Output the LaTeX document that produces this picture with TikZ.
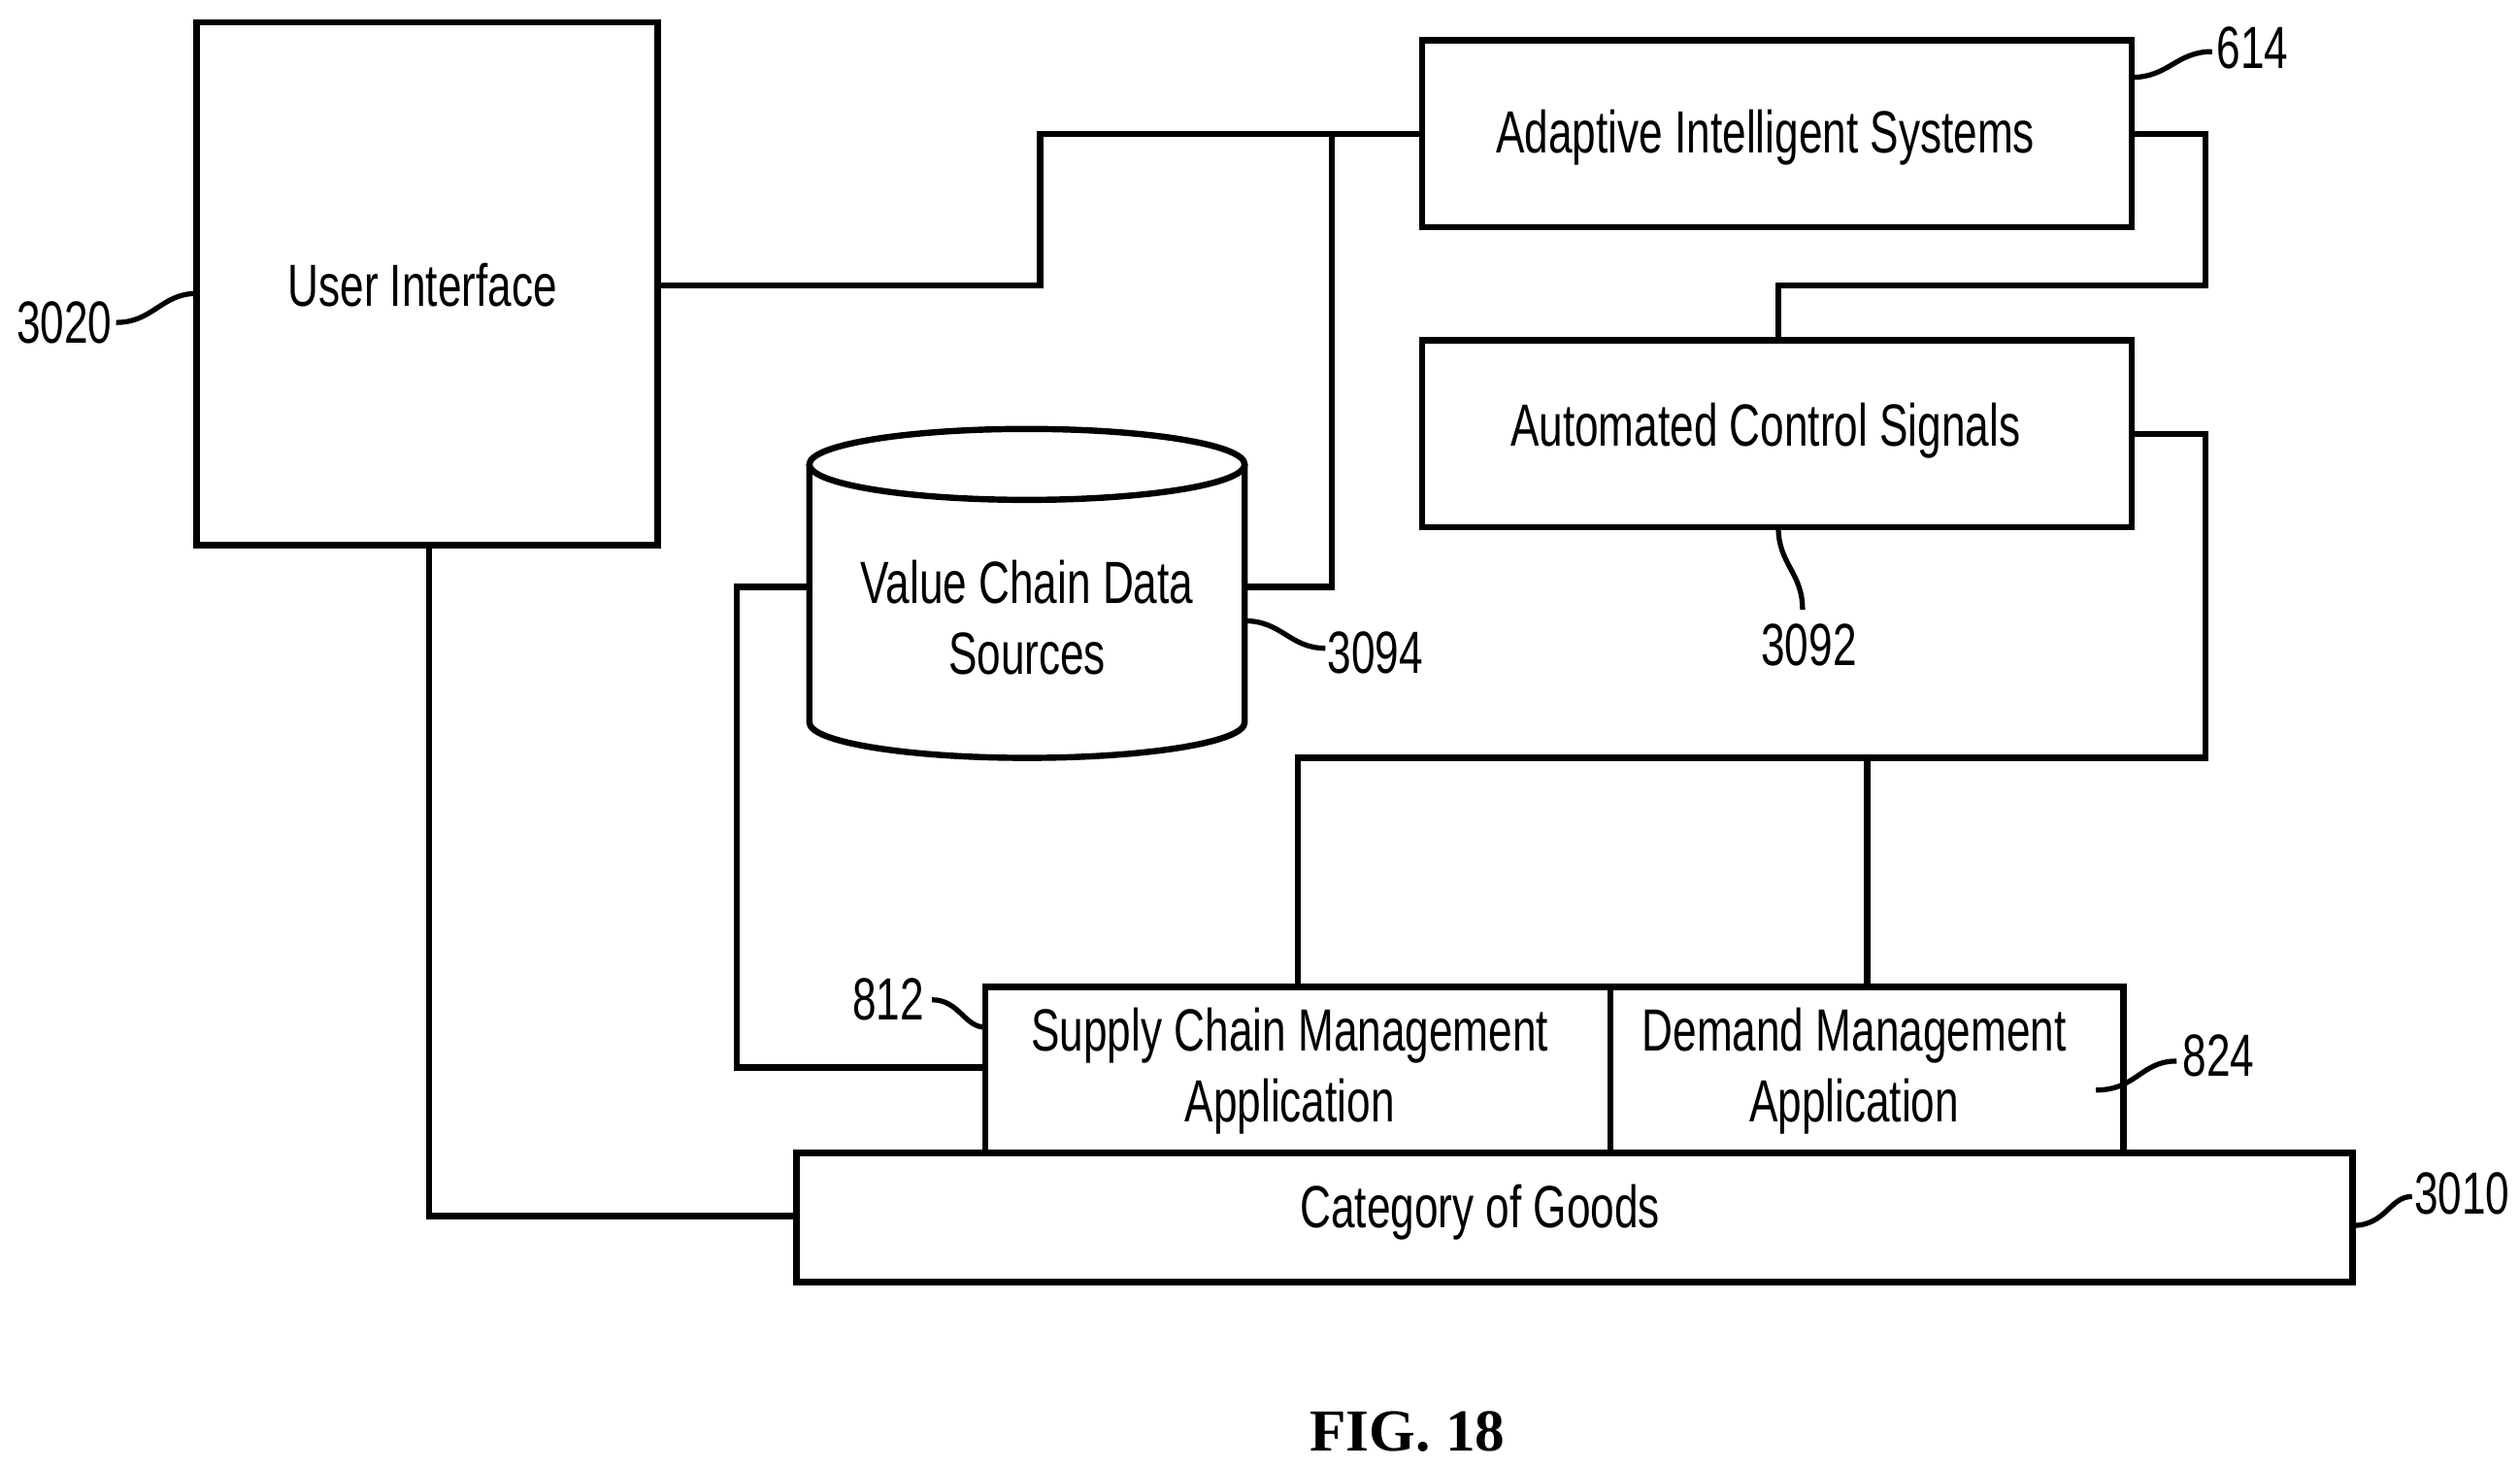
\documentclass[tikz,border=0pt]{standalone}
\usepackage{fontspec}
\setmainfont{Liberation Sans}[FakeStretch=0.72]
\newfontfamily\figfont{Liberation Serif}
\begin{document}
\begin{tikzpicture}[x=0.01cm,y=-0.01cm,line width=1.1pt,
  box/.style={draw,minimum width=0,inner sep=0},
  lab/.style={font=\fontsize{10.5}{12.5}\selectfont,align=center},
  lead/.style={line width=0.9pt}]
\useasboundingbox (0,0) rectangle (1563,910);
% boxes
\draw (122,14) rectangle (408,338); \node[lab] (ui) at (262,177) {User Interface};
\draw (882,25) rectangle (1322,141); \node[lab] (ais) at (1095,85) {Adaptive Intelligent Systems};
\draw (882,211) rectangle (1322,327); \node[lab] (acs) at (1095,267) {Automated Control Signals};
\draw (611,612) rectangle (999,715); \node[lab] (scm) at (800,664) {Supply Chain Management\\Application};
\draw (999,612) rectangle (1317,715); \node[lab] (dm) at (1150,664) {Demand Management\\Application};
\draw (494,715) rectangle (1459,795); \node[lab] (cog) at (918,752) {Category of Goods};
% cylinder
\draw (502,288) -- (502,448) arc[start angle=180,end angle=360,x radius=135,y radius=-22] -- (772,288);
\draw (637,288) ellipse[x radius=135,y radius=22];
\node[lab] (vcd) at (637,383) {Value Chain Data\\Sources};
% connectors
\draw (408,177) -| (645,83) -- (882,83);
\draw (772,364) -| (826,83);
\draw (1322,83) -| (1368,177) -| (1103,211);
\draw (1322,269) -| (1368,470) -| (805,612);
\draw (1158,470) -- (1158,612);
\draw (502,364) -| (457,662) -- (611,662);
\draw (266,338) |- (494,754);
% reference labels
\node[lab] (n3020) at (40,200) {3020};
\draw[lead] (72,200) .. controls (95,200) and (100,182) .. (122,182);
\node[lab] (n614) at (1397,30) {614};
\draw[lead] (1322,48) .. controls (1345,48) and (1350,32) .. (1372,32);
\node[lab] (n3094) at (853,405) {3094};
\draw[lead] (772,385) .. controls (795,385) and (800,402) .. (822,402);
\node[lab] (n3092) at (1122,400) {3092};
\draw[lead] (1103,327) .. controls (1103,350) and (1118,355) .. (1118,378);
\node[lab] (n812) at (551,620) {812};
\draw[lead] (578,620) .. controls (595,620) and (598,637) .. (611,637);
\node[lab] (n824) at (1376,655) {824};
\draw[lead] (1300,676) .. controls (1325,676) and (1328,658) .. (1350,658);
\node[lab] (n3010) at (1527,740) {3010};
\draw[lead] (1459,760) .. controls (1480,760) and (1482,742) .. (1496,742);
\node[font=\figfont\bfseries\fontsize{10.5}{12}\selectfont] (fig) at (873,888) {FIG. 18};
\end{tikzpicture}
\end{document}
